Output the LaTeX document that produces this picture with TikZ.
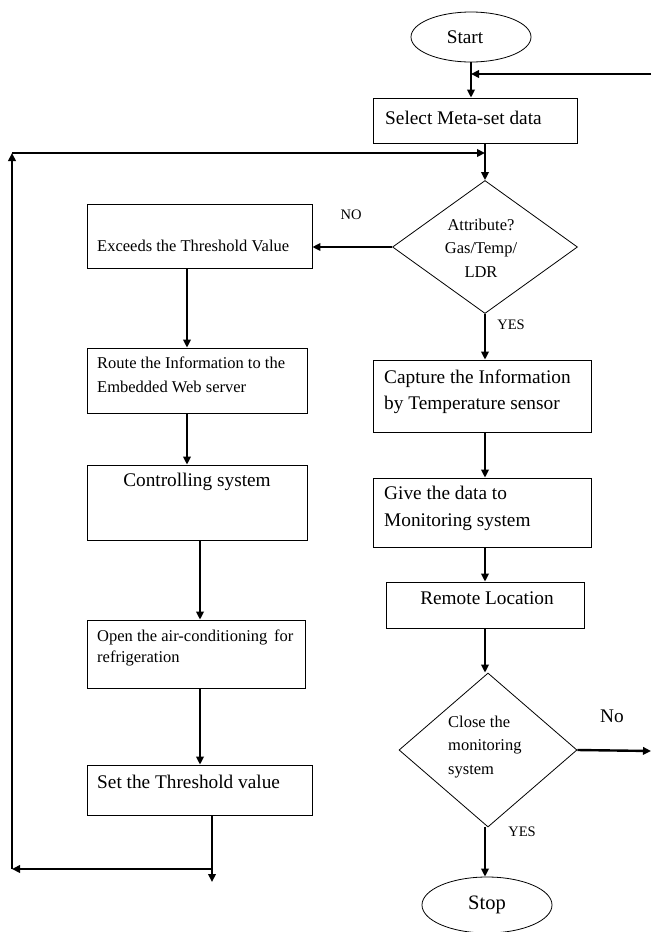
\documentclass[tikz,border=0pt]{standalone}
\usepackage{fontspec}
\setmainfont{Liberation Serif}
\usetikzlibrary{arrows.meta,shapes.geometric}
\begin{document}
\begin{tikzpicture}[x=1pt,y=-1pt,
  box/.style={draw, line width=0.8pt, inner sep=0pt},
  term/.style={draw, ellipse, line width=0.8pt, inner sep=0pt},
  dec/.style={draw, diamond, line width=0.8pt, inner sep=0pt},
  arr/.style={line width=2.4pt, -{Triangle[length=8pt,width=7.5pt]}},
  plain/.style={line width=2.4pt},
  sm/.style={font=\fontsize{16.5}{23.5}\selectfont, inner sep=0pt, align=left},
  lg/.style={font=\fontsize{19.3}{26}\selectfont, inner sep=0pt, align=left},
  lab/.style={font=\fontsize{14.5}{17}\selectfont, inner sep=0pt}
]
\useasboundingbox (0,0) rectangle (651,932);

% terminals
\node[term, minimum width=120pt, minimum height=50pt, lg] (start) at (471,37) {Start\hspace*{12pt}};
\node[term, minimum width=130pt, minimum height=56pt, lg] (stop) at (487,905) {\fontsize{20.5}{24}\selectfont Stop};

% right column boxes
\node[box, minimum width=204pt, minimum height=45pt] (sel) at (475,120.5) {};
\node[lg, anchor=west] (selt) at (385,118) {Select Meta-set data};

\node[dec, minimum width=185pt, minimum height=133pt] (d1) at (485,247) {};
\node[sm, align=center] (d1t) at (481,248) {Attribute?\\Gas/Temp/\\LDR};

\node[box, minimum width=218pt, minimum height=72pt] (cap) at (482,396) {};
\node[lg, anchor=west, font=\fontsize{19.3}{26}\selectfont] (capt) at (384,392) {Capture the Information\\by Temperature sensor};

\node[box, minimum width=218pt, minimum height=69pt] (giv) at (482,512.5) {};
\node[lg, anchor=west, font=\fontsize{19.3}{27}\selectfont] (givt) at (384,508.5) {Give the data to\\Monitoring system};

\node[box, minimum width=198pt, minimum height=46pt] (rem) at (485,605) {};
\node[lg] (remt) at (487,598) {Remote Location};

\node[dec, minimum width=178pt, minimum height=154pt] (d2) at (488,750) {};
\node[sm, anchor=west] (d2t) at (448,747) {Close the\\monitoring\\system};

% left column boxes
\node[box, minimum width=225pt, minimum height=64pt] (exc) at (199.5,236) {};
\node[sm, anchor=west] (exct) at (97,246) {Exceeds the Threshold Value};

\node[box, minimum width=220pt, minimum height=65pt] (rou) at (197,380.5) {};
\node[sm, anchor=west, font=\fontsize{16.5}{24}\selectfont] (rout) at (97,375) {Route the Information to the\\Embedded Web server};

\node[box, minimum width=220pt, minimum height=75pt] (con) at (197,502.5) {};
\node[lg] (cont) at (197,482) {Controlling system};

\node[box, minimum width=218pt, minimum height=68pt] (ope) at (196,654) {};
\node[sm, anchor=west, font=\fontsize{16.5}{21}\selectfont] (opet) at (97,647.5) {Open the air-conditioning\, for\\refrigeration};

\node[box, minimum width=225pt, minimum height=50pt] (set) at (199.5,790) {};
\node[lg, anchor=west] (sett) at (97,782) {Set the Threshold value};

% labels
\node[lab] (no1) at (351,215) {NO};
\node[lab] (yes1) at (511,325) {YES};
\node[lg] (no2) at (612,716) {No};
\node[lab] (yes2) at (522,832) {YES};

% helper coordinates
\coordinate (rin) at (651,74);
\coordinate (xa) at (187,0);
\coordinate (xb) at (200,0);
\coordinate (xc) at (212,0);
\coordinate (sb) at (212,869);
\coordinate (se) at (212,882);
\coordinate (lb) at (12,869);
\coordinate (lt) at (12,153);
\coordinate (rout2) at (651,751);

% connectors right column
\draw[arr] (start.south) -- (start.south |- sel.north);
\draw[arr] (rin) -- (rin -| start.south);
\draw[arr] (sel.south -| d1.north) -- (d1.north);
\draw[arr] (d1.south) -- (cap.north -| d1.south);
\draw[arr] (cap.south -| d1.south) -- (giv.north -| d1.south);
\draw[arr] (giv.south -| d1.south) -- (rem.north -| d1.south);
\draw[arr] (rem.south -| d1.south) -- (d2.north -| d1.south);
\draw[arr] (d2.south -| d1.south) -- (stop.north -| d1.south);
\draw[arr] (d2.east) -- (rout2);
\draw[arr] (d1.west) -- (d1.west -| exc.east);

% connectors left column
\draw[arr] (exc.south -| xa) -- (rou.north -| xa);
\draw[arr] (rou.south -| xa) -- (con.north -| xa);
\draw[arr] (con.south -| xb) -- (ope.north -| xb);
\draw[arr] (ope.south -| xb) -- (set.north -| xb);
\draw[arr] (set.south -| xc) -- (se);
\draw[arr] (sb) -- (lb);
\draw[arr] (lb) -- (lt);
\draw[arr] (lt) -- (lt -| d1.north);
\end{tikzpicture}
\end{document}
